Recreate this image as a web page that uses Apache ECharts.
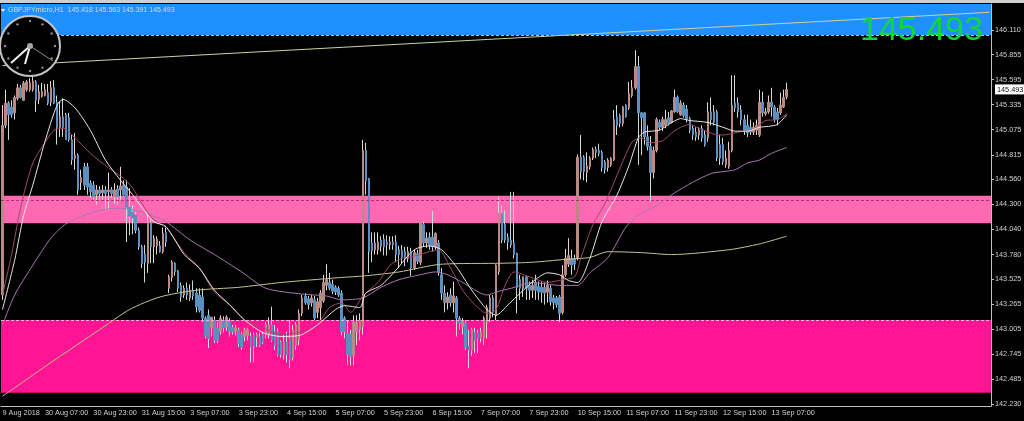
<!DOCTYPE html>
<html lang="en">
<head>
    <meta charset="UTF-8">
    <title>GBPJPYmicro,H1</title>
    <script src="https://cdn.jsdelivr.net/npm/echarts/dist/echarts.min.js"></script>
    <style>
        html, body { margin: 0; padding: 0; background: #000; }
        #chart { width: 1024px; height: 421px; }
    </style>
</head>
<body>
    <div id="chart"></div>
    <script>
        const opens = [
            143.36,145.12,145.35,145.31,145.25,145.40,145.51,145.38,145.49,145.49,
            145.49,145.57,145.39,145.42,145.43,145.46,145.36,145.51,145.36,145.10,
            145.21,145.23,145.20,144.97,144.78,144.81,144.53,144.69,144.69,144.52,
            144.50,144.40,144.45,144.42,144.45,144.43,144.45,144.38,144.46,144.45,
            144.50,144.48,144.27,144.22,144.19,144.03,143.86,143.78,143.69,144.11,
            143.86,143.87,143.87,143.81,144.01,143.43,143.54,143.69,143.61,143.46,
            143.36,143.43,143.33,143.41,143.38,143.36,143.34,143.12,143.15,143.02,
            143.10,143.02,142.98,143.10,143.03,143.08,143.02,142.98,143.00,142.95,
            142.93,142.94,142.93,142.94,142.92,142.93,142.95,142.95,142.95,143.05,
            142.98,142.98,142.87,142.74,142.87,142.91,142.71,142.84,142.89,143.17,
            143.35,143.32,143.28,143.31,143.18,143.23,143.30,143.46,143.49,143.47,
            143.44,143.43,143.38,143.12,142.96,142.95,142.74,142.98,143.00,143.03,
            144.86,144.57,143.90,143.83,143.83,143.93,143.94,143.91,143.88,143.91,
            143.91,143.83,143.82,143.81,143.74,143.81,143.64,143.79,143.70,144.09,
            143.90,143.96,143.96,143.86,143.90,143.57,143.38,143.28,143.36,143.28,
            143.33,143.12,143.03,143.07,142.83,142.79,142.97,142.97,142.91,142.91,
            143.08,143.12,143.33,143.15,143.60,144.21,144.09,143.96,143.93,143.90,
            143.79,143.52,143.43,143.55,143.46,143.41,143.49,143.45,143.44,143.44,
            143.39,143.43,143.33,143.33,143.34,143.18,143.57,143.68,143.74,143.74,
            143.74,144.79,144.79,144.63,144.69,144.78,144.87,144.86,144.84,144.74,
            144.68,144.71,144.76,145.21,145.22,145.14,145.33,145.30,145.43,145.51,
            145.73,145.25,145.25,145.00,144.90,144.63,144.86,145.15,145.10,145.12,
            145.20,145.15,145.26,145.41,145.23,145.33,145.29,145.19,145.09,145.05,
            145.02,145.09,145.02,144.99,145.26,145.26,145.26,144.92,144.92,144.71,
            144.69,144.86,145.35,145.35,145.28,145.18,145.12,145.10,145.05,145.07,
            145.02,145.36,145.24,145.26,145.36,145.31,145.26,145.25,145.31,145.418
        ];
        const closes = [
            145.12,145.35,145.23,145.23,145.41,145.51,145.41,145.56,145.57,145.56,
            145.58,145.38,145.47,145.47,145.49,145.35,145.51,145.35,145.10,145.21,
            145.10,144.97,144.97,144.76,144.81,144.45,144.58,144.50,144.48,144.43,
            144.38,144.45,144.41,144.45,144.41,144.45,144.41,144.45,144.38,144.49,
            144.40,144.27,144.18,144.16,144.03,143.86,143.69,143.70,144.11,143.86,
            143.95,143.94,143.81,144.00,143.91,143.55,143.70,143.60,143.43,143.34,
            143.43,143.36,143.41,143.35,143.24,143.20,143.12,142.93,142.91,143.13,
            142.89,142.89,143.12,143.02,143.13,142.98,142.98,143.02,142.86,142.82,
            143.00,143.00,142.82,142.83,142.95,142.84,142.87,143.05,143.05,142.89,
            142.84,142.74,142.74,142.87,142.74,142.69,143.00,143.05,143.17,143.33,
            143.28,143.26,143.33,143.12,143.29,143.38,143.49,143.52,143.43,143.40,
            143.39,143.36,142.98,142.98,142.74,142.72,143.08,143.07,143.10,144.86,
            144.55,143.81,143.82,143.90,143.91,143.86,143.86,143.88,143.91,143.88,
            143.78,143.78,143.75,143.74,143.81,143.64,143.80,143.71,144.11,143.90,
            143.95,143.88,143.86,144.00,143.60,143.38,143.28,143.34,143.28,143.35,
            143.12,143.07,143.08,142.81,142.79,143.00,142.89,142.91,142.98,143.12,
            143.23,143.33,143.18,143.67,144.21,143.93,143.93,143.91,143.88,143.78,
            143.44,143.43,143.55,143.43,143.41,143.46,143.41,143.39,143.39,143.38,
            143.46,143.29,143.28,143.26,143.17,143.57,143.74,143.77,143.67,143.68,
            144.79,144.64,144.64,144.70,144.78,144.87,144.84,144.83,144.68,144.66,
            144.76,144.78,145.18,145.12,145.14,145.31,145.21,145.45,145.51,145.73,
            145.25,145.20,145.00,144.90,144.63,144.86,145.18,145.10,145.18,145.18,
            145.14,145.27,145.41,145.26,145.35,145.22,145.18,145.07,145.02,145.00,
            145.07,144.99,144.92,145.26,145.18,145.15,144.78,144.78,144.74,144.78,
            144.86,145.33,145.30,145.26,145.18,145.07,145.04,145.05,145.10,145.12,
            145.36,145.25,145.26,145.36,145.31,145.18,145.18,145.33,145.41,145.493
        ];
        const lows = [
            143.31,145.09,144.97,145.20,145.18,145.38,145.40,145.38,145.47,145.47,
            145.47,145.26,145.34,145.41,145.42,145.33,145.32,145.34,144.92,145.00,
            145.00,144.97,144.95,144.71,144.66,144.40,144.45,144.45,144.40,144.37,
            144.35,144.30,144.35,144.35,144.24,144.24,144.37,144.31,144.30,144.35,
            144.39,143.91,143.98,143.99,144.00,143.83,143.64,143.49,143.59,143.69,
            143.69,143.78,143.80,143.79,143.86,143.38,143.50,143.56,143.39,143.29,
            143.33,143.31,143.30,143.31,143.18,143.18,143.08,142.91,142.81,142.93,
            142.86,142.86,142.95,142.97,142.99,142.93,142.95,142.94,142.82,142.79,
            142.88,142.89,142.66,142.66,142.82,142.82,142.85,142.91,142.91,142.87,
            142.79,142.72,142.71,142.69,142.66,142.60,142.68,142.79,142.84,143.14,
            143.26,143.21,143.24,143.10,143.12,143.10,143.28,143.41,143.41,143.37,
            143.36,143.34,142.94,142.91,142.63,142.63,142.63,142.84,142.89,142.95,
            144.40,143.59,143.70,143.78,143.78,143.81,143.77,143.77,143.83,143.83,
            143.70,143.64,143.69,143.66,143.70,143.56,143.62,143.68,143.67,143.86,
            143.85,143.83,143.81,143.83,143.56,143.31,143.18,143.21,143.24,143.18,
            142.93,143.00,142.95,142.79,142.60,142.73,142.76,142.76,142.87,142.84,
            142.91,143.08,143.13,143.10,143.57,143.90,143.90,143.83,143.85,143.74,
            143.17,143.31,143.34,143.31,143.31,143.33,143.31,143.31,143.28,143.26,
            143.28,143.25,143.21,143.23,143.08,143.16,143.55,143.65,143.57,143.62,
            143.72,144.56,144.55,144.53,144.66,144.76,144.78,144.80,144.64,144.62,
            144.64,144.69,144.75,145.02,145.10,145.11,145.20,145.28,145.41,145.49,
            144.71,144.81,144.92,144.86,144.33,144.57,144.84,145.07,145.06,145.09,
            145.12,145.14,145.25,145.25,145.22,145.20,145.15,145.04,144.97,144.96,
            144.97,144.95,144.90,144.95,145.12,145.12,144.75,144.71,144.71,144.68,
            144.67,144.84,145.26,145.20,145.12,145.02,145.00,145.02,145.02,145.02,
            145.00,145.21,145.22,145.24,145.21,145.15,145.12,145.23,145.30,145.391
        ];
        const highs = [
            145.33,145.49,145.37,145.38,145.43,145.55,145.54,145.58,145.59,145.61,
            145.63,145.59,145.54,145.56,145.55,145.55,145.58,145.59,145.43,145.37,
            145.40,145.25,145.25,145.02,145.04,144.83,144.66,144.73,144.73,144.55,
            144.54,144.50,144.49,144.50,144.49,144.63,144.48,144.52,144.50,144.69,
            144.55,144.55,144.47,144.29,144.22,144.06,143.88,143.88,144.22,144.14,
            143.98,143.97,143.92,144.06,144.06,143.57,143.72,143.70,143.62,143.49,
            143.46,143.49,143.47,143.51,143.43,143.43,143.43,143.14,143.21,143.13,
            143.14,143.08,143.15,143.14,143.15,143.12,143.05,143.05,143.02,142.98,
            143.02,143.02,142.97,142.97,142.97,142.97,142.98,143.08,143.13,143.24,
            143.05,143.02,142.89,142.95,142.98,143.10,143.05,143.08,143.21,143.36,
            143.38,143.35,143.36,143.35,143.33,143.41,143.57,143.68,143.59,143.52,
            143.46,143.45,143.41,143.14,143.10,143.00,143.15,143.15,143.17,144.97,
            144.94,144.57,144.01,144.01,144.01,143.97,143.99,143.98,143.97,143.97,
            143.98,143.87,143.88,143.86,143.86,143.85,143.83,143.83,144.11,144.12,
            144.01,144.01,144.23,144.01,143.93,143.64,143.46,143.39,143.43,143.50,
            143.35,143.14,143.12,143.10,143.00,143.02,143.02,143.00,143.02,143.14,
            143.26,143.36,143.36,143.68,144.38,144.29,144.24,144.00,144.43,144.43,
            143.80,143.57,143.55,143.56,143.50,143.52,143.57,143.50,143.50,143.49,
            143.51,143.46,143.36,143.35,143.36,143.67,143.84,143.95,143.83,143.78,
            144.82,145.02,144.81,144.84,144.80,144.89,144.90,144.93,144.86,144.76,
            144.78,144.79,145.28,145.33,145.24,145.32,145.34,145.57,145.59,145.90,
            145.84,145.26,145.26,145.12,145.01,144.90,145.20,145.18,145.21,145.28,
            145.26,145.28,145.49,145.43,145.38,145.36,145.33,145.21,145.12,145.10,
            145.10,145.12,145.07,145.36,145.41,145.33,145.28,145.02,144.99,144.86,
            144.95,145.64,145.64,145.41,145.33,145.23,145.23,145.18,145.15,145.18,
            145.49,145.47,145.30,145.43,145.51,145.33,145.30,145.46,145.49,145.563
        ];

        // moving averages at these bars only
        const fastBars = [0,4,7,10,14,18,20,24,29,34,39,43,46,50,54,60,65,70,75,80,86,92,98,104,110,113,118,120,125,130,136,141,145,150,155,160,163,167,171,176,180,184,187,190,194,198,203,207,210,212,217,220,224,227,233,238,242,246,250,253,256,259];
        const fastVals = [143.21,143.72,144.19,144.50,144.95,145.33,145.39,145.30,145.07,144.76,144.55,144.40,144.27,144.12,144.07,143.78,143.64,143.41,143.26,143.10,142.97,142.93,142.94,143.05,143.21,143.25,143.23,143.38,143.46,143.62,143.83,143.87,143.83,143.65,143.41,143.21,143.15,143.26,143.38,143.52,143.59,143.57,143.51,143.49,143.74,144.12,144.40,144.71,144.99,145.05,145.07,145.13,145.19,145.17,145.15,145.10,145.06,145.06,145.10,145.11,145.13,145.23];
        const midBars = [0,3,6,10,14,17,20,23,29,35,40,43,46,50,54,60,65,70,75,80,86,92,103,108,112,115,119,124,128,132,137,141,144,148,152,156,160,163,166,169,174,180,185,189,191,195,199,204,208,211,214,218,221,224,227,230,235,238,243,248,252,256,259];
        const midVals = [143.36,143.78,144.27,144.73,144.94,145.07,145.09,145.02,144.83,144.68,144.57,144.47,144.31,144.14,144.06,143.80,143.64,143.39,143.26,143.10,143.02,142.95,143.02,143.23,143.28,143.18,143.35,143.49,143.67,143.74,143.77,143.81,143.83,143.64,143.41,143.26,143.17,143.21,143.46,143.60,143.55,143.49,143.52,143.55,143.74,144.09,144.31,144.68,144.95,144.99,144.94,144.96,145.04,145.10,145.13,145.09,145.03,145.02,145.05,145.08,145.17,145.18,145.24];
        const slowBars = [0,4,10,16,21,29,37,44,49,54,62,70,79,87,99,107,112,119,125,131,138,143,147,152,160,164,168,175,184,190,194,200,206,210,216,222,228,234,238,242,246,250,254,259];
        const slowVals = [143.05,143.36,143.67,143.95,144.10,144.21,144.26,144.24,144.19,144.12,143.93,143.78,143.60,143.43,143.37,143.35,143.31,143.33,143.44,143.52,143.57,143.60,143.57,143.49,143.36,143.40,143.43,143.49,143.46,143.46,143.59,143.75,144.07,144.19,144.29,144.42,144.53,144.62,144.64,144.66,144.73,144.76,144.83,144.89];
        const longBars = [0,16,32,42,52,64,78,92,111,120,131,145,165,175,186,194,200,211,221,240,250,259];
        const longVals = [142.31,142.66,143.00,143.21,143.34,143.41,143.44,143.49,143.54,143.56,143.60,143.68,143.69,143.70,143.73,143.75,143.81,143.80,143.78,143.83,143.89,143.97];

        const trendBars = [0, 326];
        const trendVals = [145.739, 146.293];

        const tickLabels = ['30 Aug 07:00','30 Aug 23:00','31 Aug 15:00','3 Sep 07:00','3 Sep 23:00','4 Sep 15:00','5 Sep 07:00','5 Sep 23:00','6 Sep 15:00','7 Sep 07:00','7 Sep 23:00','10 Sep 15:00','11 Sep 07:00','11 Sep 23:00','12 Sep 15:00','13 Sep 07:00'];
        const firstLabel = '9 Aug 2018';
        const priceTicks = [146.110,145.855,145.595,145.335,145.075,144.815,144.560,144.300,144.040,143.780,143.525,143.265,143.005,142.745,142.485,142.230];
        const lastPrice = 145.493;
        const headerText = 'GBPJPYmicro,H1  145.418 145.563 145.391 145.493';

        // price bands: [top, bottom, colour]
        const bands = [
            [146.379, 146.058, '#1e90ff'],
            [144.391, 144.104, '#ff69b4'],
            [143.101, 142.347, '#ff1493']
        ];
        const bandLines = [
            [146.058, '#9cc8f0'],
            [144.336, '#b03068'],
            [143.101, '#ffb0d8']
        ];

        const SLOTS = 327;
        const categories = [];
        for (let i = 0; i < SLOTS; i++) {
            if (i === 0) categories.push(firstLabel);
            else if (i >= 14 && (i - 14) % 16 === 0 && tickLabels[(i - 14) / 16]) categories.push(tickLabels[(i - 14) / 16]);
            else categories.push('');
        }

        const wicks = opens.map((o, i) => [o, closes[i], lows[i], highs[i]]);
        const bodies = opens.map((o, i) => [o, closes[i], Math.min(o, closes[i]), Math.max(o, closes[i])]);

        function sparse(bars, vals) {
            return bars.map((b, i) => [b, vals[i]]);
        }

        function maLine(bars, vals, color) {
            return {
                type: 'line',
                data: sparse(bars, vals),
                showSymbol: false,
                smooth: 0.25,
                silent: true,
                z: 5,
                lineStyle: { color: color, width: 1 }
            };
        }

        // clock in the top left corner
        const clockX = 30, clockY = 46;
        const clockParts = [
            { type: 'circle', z: 60, shape: { cx: clockX, cy: clockY, r: 30 }, style: { fill: '#000', stroke: '#c4c4c4', lineWidth: 2 } }
        ];
        for (let h = 0; h < 12; h++) {
            const a = h * Math.PI / 6;
            clockParts.push({
                type: 'circle',
                z: 61,
                shape: { cx: clockX + Math.sin(a) * 25, cy: clockY - Math.cos(a) * 25, r: 1.2 },
                style: { fill: '#8c8c8c' }
            });
        }
        clockParts.push(
            { type: 'line', z: 61, shape: { x1: clockX, y1: clockY, x2: 11, y2: 63 }, style: { stroke: '#f0f0f0', lineWidth: 2 } },
            { type: 'line', z: 61, shape: { x1: clockX, y1: clockY, x2: 25, y2: 64 }, style: { stroke: '#f0f0f0', lineWidth: 2 } },
            { type: 'line', z: 61, shape: { x1: clockX, y1: clockY, x2: 53, y2: 61 }, style: { stroke: '#8c8c8c', lineWidth: 1 } },
            { type: 'circle', z: 62, shape: { cx: clockX, cy: clockY, r: 3 }, style: { fill: '#a8a8a8' } }
        );

        const chart = echarts.init(document.getElementById('chart'));
        chart.setOption({
            animation: false,
            backgroundColor: '#000',
            textStyle: { fontFamily: 'Liberation Sans' },
            title: [
                { text: headerText, left: 8, top: 7, padding: 0, z: 70, textStyle: { color: '#d8d8d8', fontSize: 7, fontWeight: 'normal', fontFamily: 'Liberation Sans' } },
                { text: String(lastPrice), left: 860, top: 14, padding: 0, z: 70, textStyle: { color: '#10d838', fontSize: 34, fontWeight: 'normal', fontFamily: 'Liberation Sans' } }
            ],
            graphic: [
                { type: 'rect', shape: { x: 0, y: 0, width: 1024, height: 3 }, style: { fill: '#cfcfcf' }, z: 50 },
                { type: 'polygon', shape: { points: [[1, 9], [5, 9], [3, 12]] }, style: { fill: '#f0f0f0' }, z: 50 },
                { type: 'group', children: clockParts }
            ],
            grid: { left: 1, right: 33, top: 4, bottom: 15, outerBoundsMode: 'none' },
            xAxis: {
                type: 'category',
                data: categories,
                boundaryGap: true,
                axisLine: { lineStyle: { color: '#c0c0c0', width: 1 } },
                axisTick: {
                    alignWithLabel: true,
                    length: 3,
                    lineStyle: { color: '#c0c0c0' },
                    interval: (i, v) => v !== '' && i !== 0
                },
                axisLabel: {
                    interval: (i, v) => v !== '',
                    hideOverlap: false,
                    color: '#d0d0d0',
                    fontSize: 7.3,
                    align: 'left',
                    margin: 3
                },
                splitLine: { show: false }
            },
            yAxis: {
                type: 'value',
                position: 'right',
                min: 142.209,
                max: 146.379,
                axisLine: { show: true, lineStyle: { color: '#c0c0c0', width: 1 } },
                axisTick: { show: true, length: 3, lineStyle: { color: '#c0c0c0' }, customValues: priceTicks },
                axisLabel: {
                    customValues: priceTicks.concat([lastPrice]),
                    margin: 4,
                    fontSize: 7.3,
                    color: '#d0d0d0',
                    formatter: v => v === lastPrice
                        ? '{cur|' + v.toFixed(3) + '}'
                        : v.toFixed(3),
                    rich: {
                        cur: { backgroundColor: '#fff', color: '#111', fontSize: 7.3, padding: [2, 2, 1, 2] }
                    }
                },
                splitLine: { show: false }
            },
            series: [
                {
                    type: 'line',
                    name: 'trend',
                    data: sparse(trendBars, trendVals),
                    showSymbol: false,
                    silent: true,
                    z: 4,
                    lineStyle: { color: '#d0d0a0', width: 1 },
                    markArea: {
                        silent: true,
                        data: bands.map(b => [
                            { yAxis: b[0], itemStyle: { color: b[2] } },
                            { yAxis: b[1] }
                        ])
                    },
                    markLine: {
                        silent: true,
                        symbol: 'none',
                        label: { show: false },
                        data: bandLines.map(l => ({
                            yAxis: l[0],
                            lineStyle: { color: l[1], type: [3, 2], width: 1 }
                        }))
                    }
                },
                {
                    type: 'candlestick',
                    data: wicks,
                    barWidth: 1,
                    silent: true,
                    z: 2,
                    itemStyle: { color: '#e6d8d0', color0: '#c8dcd4', borderColor: '#e6d8d0', borderColor0: '#c8dcd4', borderWidth: 1 }
                },
                {
                    type: 'candlestick',
                    data: bodies,
                    barWidth: 2,
                    silent: true,
                    z: 3,
                    itemStyle: { color: '#b98a84', color0: '#5c8fc0', borderColor: '#b98a84', borderColor0: '#5c8fc0', borderWidth: 1 }
                },
                maLine(longBars, longVals, '#c4c48a'),
                maLine(slowBars, slowVals, '#a878b0'),
                maLine(midBars, midVals, '#a04a68'),
                maLine(fastBars, fastVals, '#e8e8e0')
            ]
        });
    </script>
</body>
</html>
